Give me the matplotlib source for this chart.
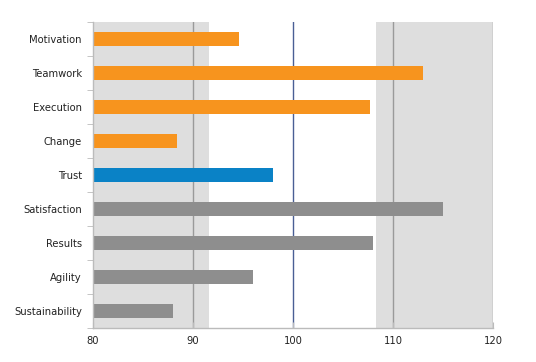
import matplotlib
matplotlib.use("Agg")
import matplotlib.pyplot as plt

categories = ["Motivation", "Teamwork", "Execution", "Change", "Trust",
              "Satisfaction", "Results", "Agility", "Sustainability"]
values = [94.6, 113.0, 107.7, 88.4, 98.0, 115.0, 108.0, 96.0, 88.0]
groups = ["orange", "orange", "orange", "orange", "blue", "gray", "gray", "gray", "gray"]
x_ticks = [80, 90, 100, 110, 120]
shade_low = (80, 91.6)
shade_high = (108.3, 120)
reference = 100

palette = {"orange": "#f7941e", "blue": "#0a82c6", "gray": "#8e8e8e"}

fig = plt.figure(figsize=(5.36, 3.62), dpi=100)
ax = fig.add_axes([93/536, 1-328/362, 400/536, 306/362])

ax.axvspan(*shade_low, color="#dedede", zorder=0, lw=0)
ax.axvspan(*shade_high, color="#dedede", zorder=0, lw=0)
for t in [90, 110, 120]:
    ax.axvline(t, color="#9a9a9a", lw=1.0, zorder=1)
ax.axvline(reference, color="#4a5f95", lw=1.0, zorder=1)

n = len(categories)
ypos = list(range(n))
ax.barh(ypos, [v - 80 for v in values], left=80, height=0.4,
        color=[palette[g] for g in groups], zorder=2)

ax.set_xlim(80, 120)
ax.set_ylim(n - 0.5, -0.5)
ax.set_xticks(x_ticks)
ax.set_xticklabels([str(t) for t in x_ticks], fontsize=7.2, color="#222222")
ax.set_yticks(ypos)
ax.set_yticklabels(categories, fontsize=7.2, color="#222222")
ax.tick_params(axis="y", length=0, pad=8)
ax.set_yticks([i + 0.5 for i in range(-1, n)], minor=True)
ax.tick_params(axis="y", which="minor", length=4, color="#bbbbbb", direction="out")
ax.tick_params(axis="x", length=4, color="#bbbbbb", direction="in", pad=6)

for s in ["top", "right"]:
    ax.spines[s].set_visible(False)
ax.spines["left"].set_color("#bbbbbb")
ax.spines["bottom"].set_color("#bbbbbb")
ax.spines["left"].set_linewidth(1.0)
ax.spines["bottom"].set_linewidth(1.0)

fig.savefig("out.png", dpi=100)
